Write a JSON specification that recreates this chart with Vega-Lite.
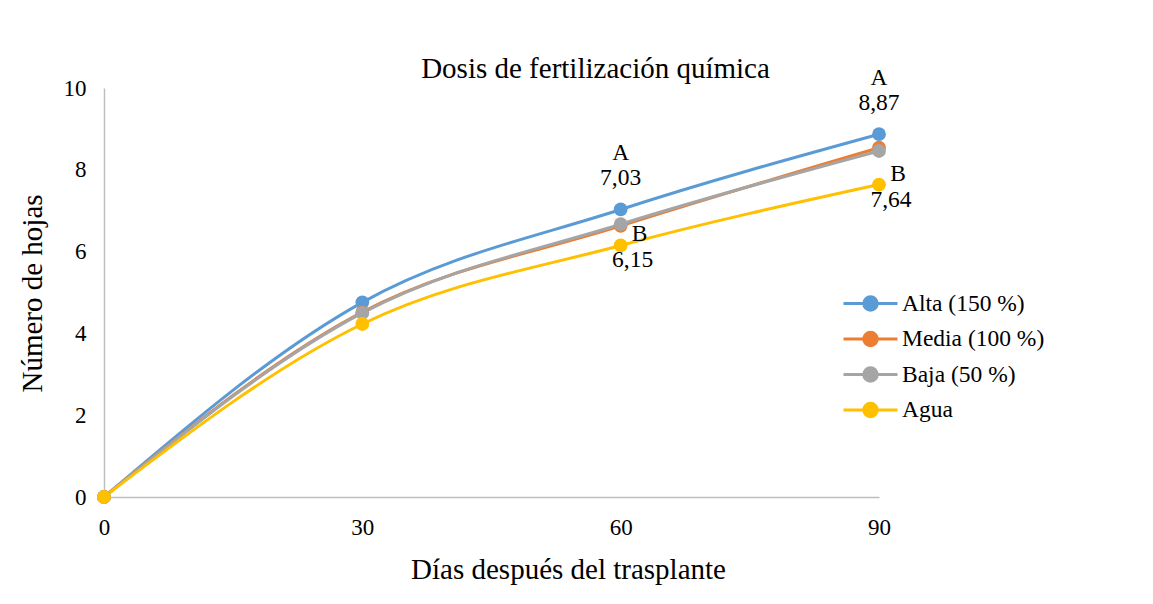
{
  "$schema": "https://vega.github.io/schema/vega-lite/v6.json",
  "width": 775,
  "height": 409,
  "autosize": "none",
  "padding": {"left": 104, "top": 88, "right": 274, "bottom": 107},
  "background": "white",
  "config": {
    "font": "Liberation Serif",
    "view": {"stroke": null},
    "axis": {
      "grid": false,
      "ticks": false,
      "domainColor": "#BFBFBF",
      "domainWidth": 1.5,
      "labelFont": "Liberation Serif",
      "labelFontSize": 23,
      "labelColor": "#000000",
      "titleFont": "Liberation Serif",
      "titleFontWeight": "normal",
      "titleColor": "#000000"
    }
  },
  "title": {
    "text": "Dosis de fertilización química",
    "font": "Liberation Serif",
    "fontSize": 29,
    "fontWeight": "normal",
    "color": "#000000",
    "anchor": "middle",
    "frame": "group",
    "dx": 104,
    "baseline": "alphabetic",
    "offset": -41
  },
  "data": {
    "values": [
      {"dia": 0, "serie": "Alta (150 %)", "valor": 0},
      {"dia": 30, "serie": "Alta (150 %)", "valor": 4.76},
      {"dia": 60, "serie": "Alta (150 %)", "valor": 7.03, "letra": "A", "etiqueta": "7,03"},
      {"dia": 90, "serie": "Alta (150 %)", "valor": 8.87, "letra": "A", "etiqueta": "8,87"},
      {"dia": 0, "serie": "Media (100 %)", "valor": 0},
      {"dia": 30, "serie": "Media (100 %)", "valor": 4.52},
      {"dia": 60, "serie": "Media (100 %)", "valor": 6.63},
      {"dia": 90, "serie": "Media (100 %)", "valor": 8.54},
      {"dia": 0, "serie": "Baja (50 %)", "valor": 0},
      {"dia": 30, "serie": "Baja (50 %)", "valor": 4.5},
      {"dia": 60, "serie": "Baja (50 %)", "valor": 6.67},
      {"dia": 90, "serie": "Baja (50 %)", "valor": 8.46},
      {"dia": 0, "serie": "Agua", "valor": 0},
      {"dia": 30, "serie": "Agua", "valor": 4.23},
      {"dia": 60, "serie": "Agua", "valor": 6.15, "letra": "B", "etiqueta": "6,15"},
      {"dia": 90, "serie": "Agua", "valor": 7.64, "letra": "B", "etiqueta": "7,64"}
    ]
  },
  "encoding": {
    "x": {
      "field": "dia",
      "type": "quantitative",
      "scale": {"domain": [0, 90], "nice": false, "zero": true},
      "axis": {
        "values": [0, 30, 60, 90],
        "labelFlush": false,
        "labelPadding": 19,
        "title": "Días después del trasplante",
        "titleFontSize": 29,
        "titleX": 464,
        "titleY": 81,
        "titleBaseline": "alphabetic",
        "titleAnchor": null
      }
    },
    "y": {
      "field": "valor",
      "type": "quantitative",
      "scale": {"domain": [0, 10], "nice": false},
      "axis": {
        "values": [0, 2, 4, 6, 8, 10],
        "labelFlush": false,
        "labelPadding": 18,
        "title": "Número de hojas",
        "titleFontSize": 29,
        "titleX": -63,
        "titleY": 205,
        "titleBaseline": "alphabetic",
        "titleAngle": -90,
        "titleAlign": "center"
      }
    }
  },
  "layer": [
    {
      "mark": {
        "type": "line",
        "interpolate": "monotone",
        "strokeWidth": 3,
        "point": {"filled": true, "size": 190}
      },
      "encoding": {
        "color": {
          "field": "serie",
          "type": "nominal",
          "sort": ["Alta (150 %)", "Media (100 %)", "Baja (50 %)", "Agua"],
          "scale": {
            "domain": ["Alta (150 %)", "Media (100 %)", "Baja (50 %)", "Agua"],
            "range": ["#5B9BD5", "#ED7D31", "#A5A5A5", "#FFC000"]
          },
          "legend": {
            "title": null,
            "orient": "none",
            "legendX": 753,
            "legendY": 202,
            "labelFont": "Liberation Serif",
            "labelFontSize": 23.5,
            "labelColor": "#000000",
            "labelOffset": 18,
            "rowPadding": 8.5,
            "symbolType": "M-2.25,0H2.25M0.5625,0A0.5625,0.5625,0,1,1,-0.5625,0A0.5625,0.5625,0,1,1,0.5625,0Z",
            "symbolSize": 576,
            "symbolStrokeWidth": 3,
            "encode": {
              "symbols": {
                "update": {
                  "fill": {"scale": "color", "field": "value"},
                  "stroke": {"scale": "color", "field": "value"},
                  "opacity": {"value": 1}
                }
              }
            }
          }
        }
      }
    },
    {
      "transform": [{"filter": "datum.serie === 'Alta (150 %)' && isValid(datum.letra)"}],
      "mark": {"type": "text", "fontSize": 23.5, "font": "Liberation Serif", "color": "#000000", "baseline": "middle", "dy": -56},
      "encoding": {"text": {"field": "letra"}}
    },
    {
      "transform": [{"filter": "datum.serie === 'Alta (150 %)' && isValid(datum.letra)"}],
      "mark": {"type": "text", "fontSize": 23.5, "font": "Liberation Serif", "color": "#000000", "baseline": "middle", "dy": -31},
      "encoding": {"text": {"field": "etiqueta"}}
    },
    {
      "transform": [{"filter": "datum.serie === 'Agua' && isValid(datum.letra)"}],
      "mark": {"type": "text", "fontSize": 23.5, "font": "Liberation Serif", "color": "#000000", "baseline": "middle", "dx": 19, "dy": -11},
      "encoding": {"text": {"field": "letra"}}
    },
    {
      "transform": [{"filter": "datum.serie === 'Agua' && isValid(datum.letra)"}],
      "mark": {"type": "text", "fontSize": 23.5, "font": "Liberation Serif", "color": "#000000", "baseline": "middle", "dx": 12, "dy": 15},
      "encoding": {"text": {"field": "etiqueta"}}
    }
  ]
}
